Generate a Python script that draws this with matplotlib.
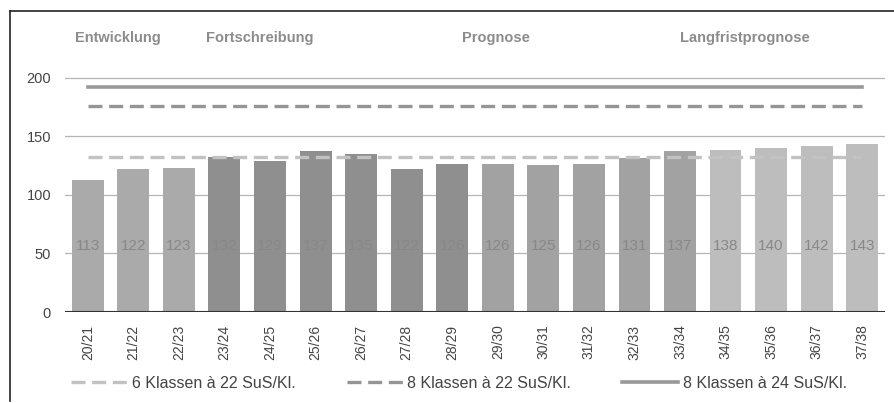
import matplotlib
matplotlib.use("Agg")
import matplotlib.pyplot as plt
from matplotlib.lines import Line2D

plt.rcParams['font.family'] = ['Liberation Sans', 'DejaVu Sans']

years = ["20/21", "21/22", "22/23", "23/24", "24/25", "25/26", "26/27", "27/28", "28/29",
         "29/30", "30/31", "31/32", "32/33", "33/34", "34/35", "35/36", "36/37", "37/38"]
values = [113, 122, 123, 132, 129, 137, 135, 122, 126, 126, 125, 126, 131, 137, 138, 140, 142, 143]
phase = ["E", "E", "E", "F", "F", "F", "F", "F", "F", "P", "P", "P", "P", "P", "L", "L", "L", "L"]
phase_colors = {"E": "#aaaaaa", "F": "#8f8f8f", "P": "#a2a2a2", "L": "#bdbdbd"}
phase_titles = ["Entwicklung", "Fortschreibung", "Prognose", "Langfristprognose"]
phase_title_x = [0.66, 3.78, 8.96, 14.42]

ref_values = [132, 176, 192]
ref_labels = ["6 Klassen à 22 SuS/Kl.", "8 Klassen à 22 SuS/Kl.", "8 Klassen à 24 SuS/Kl."]
ref_colors = ["#c2c2c2", "#959595", "#999999"]
ref_styles = ["dash", "dash", "solid"]

fig = plt.figure(figsize=(8.95, 4.03), dpi=100)
W, H = 895, 403
ax = fig.add_axes([65 / W, (H - 312) / H, 820 / W, (312 - 60) / H])

x = list(range(len(years)))
ax.bar(x, values, width=0.70, color=[phase_colors[p] for p in phase], zorder=2)
for xi, v in zip(x, values):
    ax.text(xi, 56, str(v), ha="center", va="center", fontsize=11, color="#888888", zorder=4)

handles = []
for val, lab, col, st in zip(ref_values, ref_labels, ref_colors, ref_styles):
    if st == "dash":
        ax.plot([0, len(years) - 1], [val, val], color=col, lw=2.4,
                dashes=(4.2, 2.0), zorder=3)
        h = Line2D([], [], color=col, lw=2.4, dashes=(4.2, 2.0))
    else:
        ax.plot([0, len(years) - 1], [val, val], color=col, lw=2.6, zorder=3)
        h = Line2D([], [], color=col, lw=2.6)
    handles.append(h)

ax.set_xlim(-0.5, len(years) - 0.5)
ax.set_ylim(0, 215)
ax.set_yticks([0, 50, 100, 150, 200])
ax.set_xticks(x)
ax.set_xticklabels(years, rotation=90, fontsize=10, color="#444444")
ax.tick_params(axis="y", length=0, pad=10, labelsize=10.5, labelcolor="#444444")
ax.tick_params(axis="x", length=0, pad=9)
for s in ax.spines.values():
    s.set_visible(False)
for gy in [50, 100, 150, 200]:
    ax.axhline(gy, color="#b5b5b5", lw=0.9, zorder=1)
ax.axhline(0, color="#333333", lw=1.5, zorder=5)

for t, tx in zip(phase_titles, phase_title_x):
    xf = ax.transData.transform((tx, 0))[0] / W
    fig.text(xf, (H - 38) / H, t, ha="center", va="center", fontsize=10.5,
             fontweight="bold", color="#8c8c8c")

fig.legend(handles, ref_labels, loc="center", bbox_to_anchor=(0.513, (H - 383) / H),
           ncol=3, frameon=False, fontsize=11.5, handlelength=3.5, handletextpad=0.3,
           columnspacing=3.2, labelcolor="#444444")

fig.add_artist(Line2D([10 / W, 1.0], [(H - 11) / H, (H - 11) / H], color="#222222", lw=1.2))
fig.add_artist(Line2D([10 / W, 10 / W], [(H - 11) / H, (H - 401) / H], color="#222222", lw=1.2))

fig.savefig("out.png", dpi=100)
